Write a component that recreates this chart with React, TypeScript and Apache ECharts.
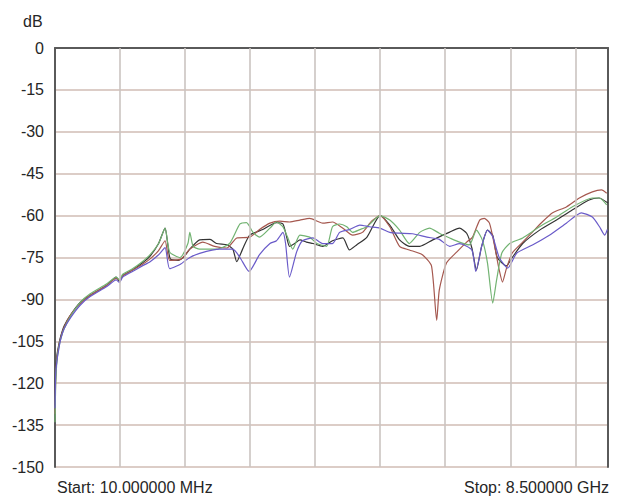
import React, { useEffect, useRef } from "react";
import * as echarts from "echarts";

// Frequency in GHz, level in dB
const xRangeGHz = [0.01, 8.5];
const yRangeDb = [-150, 0];
const yStepDb = 15;
const xGridGHz = [1, 2, 3, 4, 5, 6, 7, 8];
const unitLabel = "dB";
const startLabel = "Start: 10.000000 MHz";
const stopLabel = "Stop: 8.500000 GHz";

const blackTrace: [number, number][] = [
  [0.01, -128], [0.02, -117], [0.04, -110], [0.07, -106], [0.1, -103], [0.15, -99.5], [0.25, -95.5],
  [0.4, -91], [0.55, -88.5], [0.8, -85], [0.95, -82], [1.0, -83.5], [1.05, -81.5], [1.2, -79.5],
  [1.35, -77], [1.47, -74.5], [1.6, -70], [1.7, -64.5], [1.74, -70], [1.78, -75.5], [1.9, -76],
  [1.98, -75], [2.08, -72], [2.23, -68.7], [2.39, -68.5], [2.49, -70], [2.65, -70.5], [2.74, -72],
  [2.8, -76.5], [2.89, -72], [3.0, -67], [3.2, -65], [3.41, -62.5], [3.51, -63], [3.57, -68],
  [3.61, -71], [3.69, -70], [3.77, -68.7], [3.87, -69.5], [3.97, -70], [4.12, -71], [4.27, -69],
  [4.43, -68], [4.53, -72.3], [4.64, -70.5], [4.8, -67.7], [5.0, -60], [5.15, -63.4], [5.3, -68.7],
  [5.45, -71], [5.61, -71], [5.81, -68.7], [6.07, -65.9], [6.22, -64.5], [6.33, -66.3], [6.41, -71.6],
  [6.48, -79.5], [6.56, -71], [6.65, -65.2], [6.73, -67], [6.8, -75], [6.94, -78], [7.03, -75],
  [7.19, -70], [7.45, -65.2], [7.71, -61.6], [7.95, -58], [8.21, -54.4], [8.36, -53.7], [8.5, -55.5],
];

const greenTrace: [number, number][] = [
  [0.01, -134], [0.02, -121], [0.04, -112], [0.07, -107], [0.1, -104], [0.15, -100.5], [0.25, -96],
  [0.4, -91], [0.55, -88], [0.8, -84.5], [0.95, -82], [1.0, -83], [1.05, -81], [1.2, -79],
  [1.35, -76.5], [1.47, -74], [1.6, -70], [1.7, -64.5], [1.77, -73], [1.93, -75], [2.05, -70],
  [2.08, -66], [2.13, -71], [2.23, -72], [2.49, -72], [2.69, -70], [2.85, -63], [2.95, -62.5],
  [3.05, -66], [3.15, -67.7], [3.31, -64.5], [3.41, -62.3], [3.51, -64], [3.58, -67.7], [3.66, -72],
  [3.77, -67], [3.92, -67.7], [4.03, -70], [4.18, -71], [4.27, -64], [4.38, -63], [4.49, -64],
  [4.58, -66], [4.69, -65], [4.8, -64], [5.0, -60], [5.15, -61.6], [5.3, -65.2], [5.45, -70],
  [5.61, -66], [5.76, -64.5], [5.91, -66.3], [6.07, -68], [6.22, -69.5], [6.37, -70.5], [6.48, -65.2],
  [6.57, -68.7], [6.65, -77], [6.73, -91.3], [6.79, -83], [6.87, -73.4], [6.99, -70], [7.19, -68],
  [7.45, -64], [7.71, -60.5], [7.95, -56.9], [8.26, -53.7], [8.37, -53.7], [8.48, -56.2],
];

const redTrace: [number, number][] = [
  [0.01, -131], [0.02, -119], [0.04, -111], [0.07, -106.5], [0.1, -103.5], [0.15, -100], [0.25, -95.5],
  [0.4, -91.5], [0.55, -88.5], [0.8, -85], [0.95, -82.5], [1.0, -83], [1.05, -81.5], [1.2, -79.5],
  [1.35, -77.5], [1.47, -75.5], [1.6, -72.5], [1.7, -69], [1.77, -76], [1.95, -75.5], [2.08, -72],
  [2.28, -69.5], [2.46, -71], [2.65, -71.6], [2.8, -68], [3.0, -67.7], [3.15, -65], [3.31, -62.7],
  [3.46, -62], [3.61, -62.3], [3.77, -61.6], [3.92, -61], [4.12, -62.7], [4.27, -62.3], [4.43, -64.5],
  [4.58, -67], [4.73, -66], [4.87, -62], [5.0, -60], [5.15, -64], [5.3, -71], [5.45, -72.3],
  [5.65, -74], [5.79, -78], [5.87, -97.5], [5.91, -86.6], [6.02, -77], [6.18, -73], [6.33, -69.5],
  [6.42, -67.7], [6.53, -61.6], [6.6, -61], [6.68, -62.7], [6.76, -71], [6.83, -79.5], [6.88, -83.8],
  [6.94, -79], [7.03, -73.4], [7.19, -69.5], [7.34, -65.9], [7.49, -62.3], [7.65, -59], [7.86, -56.9],
  [8.06, -53.7], [8.26, -51.5], [8.4, -50.8], [8.48, -52],
];

const purpleTrace: [number, number][] = [
  [0.01, -129], [0.02, -117], [0.04, -112], [0.07, -107.5], [0.1, -104], [0.15, -100.5], [0.25, -96.5],
  [0.4, -92], [0.55, -89], [0.8, -85.5], [0.95, -83], [1.0, -84], [1.05, -82], [1.2, -80],
  [1.35, -78], [1.47, -76.5], [1.6, -74], [1.7, -71.5], [1.77, -79], [1.93, -77.5], [2.08, -75],
  [2.23, -73.5], [2.54, -72], [2.74, -72], [2.85, -75], [2.99, -80], [3.15, -74], [3.31, -70],
  [3.41, -69], [3.51, -66], [3.55, -70], [3.61, -82], [3.72, -73], [3.81, -69], [3.97, -68],
  [4.12, -70], [4.27, -70], [4.38, -66], [4.53, -65], [4.69, -63.4], [4.84, -64], [5.0, -64.5],
  [5.15, -66], [5.3, -66.3], [5.5, -66.5], [5.72, -67.7], [5.91, -68.5], [6.07, -71], [6.22, -70],
  [6.41, -72.3], [6.47, -80], [6.56, -71], [6.65, -65.2], [6.73, -67.5], [6.83, -75], [6.96, -78.8],
  [7.1, -73.4], [7.34, -70.5], [7.6, -67], [7.86, -62.7], [8.09, -59], [8.26, -60.5], [8.37, -64],
  [8.45, -67], [8.49, -65],
];

const traces = [
  { name: "Trace 1", data: blackTrace, color: "#333333" },
  { name: "Trace 2", data: redTrace, color: "#a5584f" },
  { name: "Trace 3", data: greenTrace, color: "#72b372" },
  { name: "Trace 4", data: purpleTrace, color: "#6a5bc9" },
];

const FONT = "'Liberation Sans', Arial, sans-serif";

export default function App() {
  const ref = useRef<HTMLDivElement>(null);

  useEffect(() => {
    document.body.style.margin = "0";
    if (!ref.current) return;
    const chart = echarts.init(ref.current, undefined, { renderer: "svg" });
    chart.setOption({
      animation: false,
      backgroundColor: "#ffffff",
      grid: { left: 55, right: 12, top: 48, bottom: 31, containLabel: false },
      xAxis: {
        type: "value",
        min: xRangeGHz[0],
        max: xRangeGHz[1],
        axisLine: { show: true, lineStyle: { color: "#5a5a5a", width: 2 } },
        axisTick: { show: false },
        axisLabel: { show: false },
        splitLine: { show: false },
      },
      yAxis: [
        {
          type: "value",
          min: yRangeDb[0],
          max: yRangeDb[1],
          interval: yStepDb,
          axisLine: { show: true, lineStyle: { color: "#5a5a5a", width: 2 } },
          axisTick: { show: false },
          axisLabel: { color: "#262626", fontSize: 16, fontFamily: FONT, margin: 11 },
          splitLine: { show: true, lineStyle: { color: "#d0bcb4", width: 1.6 } },
        },
        {
          type: "value",
          position: "right",
          min: yRangeDb[0],
          max: yRangeDb[1],
          interval: yStepDb,
          axisLine: { show: true, lineStyle: { color: "#5a5a5a", width: 2 } },
          axisTick: { show: false },
          axisLabel: { show: false },
          splitLine: { show: false },
        },
      ],
      series: [
        {
          type: "line",
          data: [],
          silent: true,
          z: 1,
          markLine: {
            silent: true,
            symbol: ["none", "none"],
            label: { show: false },
            lineStyle: { color: "#cbc4c1", width: 1.6, type: "solid" },
            data: xGridGHz.map((v) => ({ xAxis: v })),
          },
        },
        ...traces.map((t) => ({
          name: t.name,
          type: "line",
          data: t.data,
          showSymbol: false,
          symbol: "none",
          smooth: 0.2,
          z: 3,
          lineStyle: { color: t.color, width: 1.2 },
          itemStyle: { color: t.color },
        })),
      ],
      graphic: [
        {
          type: "text",
          left: 23,
          top: 13,
          style: { text: unitLabel, fill: "#262626", font: `16px ${FONT}` },
        },
        {
          type: "text",
          left: 57,
          top: 479,
          style: { text: startLabel, fill: "#262626", font: `16px ${FONT}` },
        },
        {
          type: "text",
          right: 11,
          top: 479,
          style: { text: stopLabel, fill: "#262626", font: `16px ${FONT}` },
        },
      ],
    });
    return () => chart.dispose();
  }, []);

  return <div ref={ref} style={{ width: 620, height: 498 }} />;
}
